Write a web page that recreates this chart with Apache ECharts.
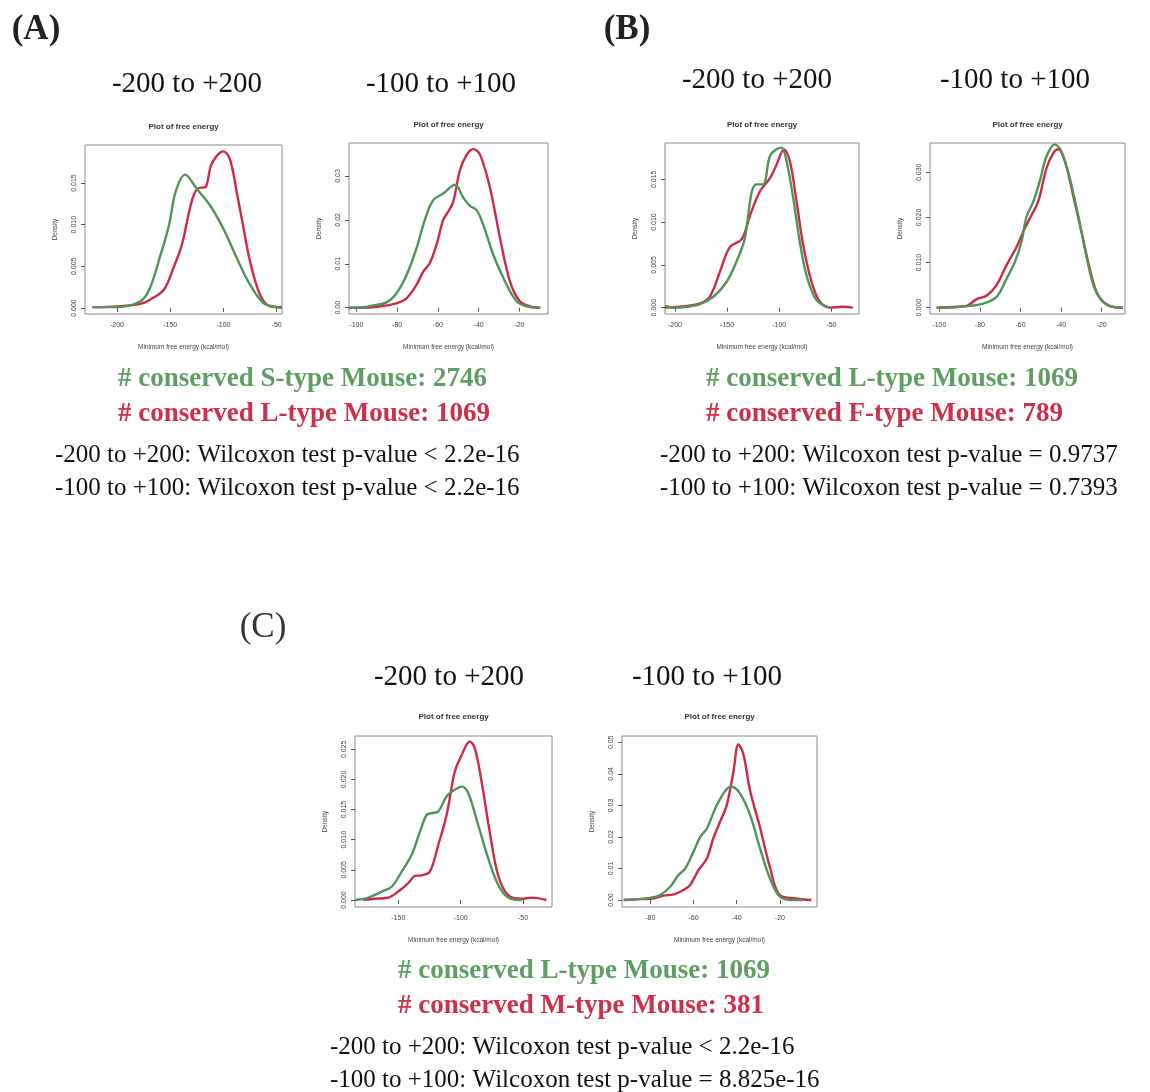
<!DOCTYPE html>
<html><head><meta charset="utf-8">
<script src="https://cdn.jsdelivr.net/npm/echarts@6/dist/echarts.min.js"></script>
<style>html,body{margin:0;padding:0;background:#fff}#c{width:1150px;height:1092px}</style>
</head><body><div id="c"></div>
<script>
// ---- data ----
const aWideXTicks = [-200, -150, -100, -50];
const aNarrowXTicks = [-100, -80, -60, -40, -20];
const c1XTicks = [-150, -100, -50];
const c2XTicks = [-80, -60, -40, -20];

const a1YTicks = [0, 0.005, 0.010, 0.015];
const a2YTicks = [0, 0.01, 0.02, 0.03];
const b1YTicks = [0, 0.005, 0.010, 0.015];
const b2YTicks = [0, 0.010, 0.020, 0.030];
const c1YTicks = [0, 0.005, 0.010, 0.015, 0.020, 0.025];
const c2YTicks = [0, 0.01, 0.02, 0.03, 0.04, 0.05];

// Panel A, -200..+200: green = S-type, red = L-type
const a1Green = [[-223,0.0001],[-200,0.0001],[-178,0.0008],[-169,0.0024],[-159,0.0064],[-151,0.0100],[-145,0.0139],[-136,0.0160],[-125,0.0143],[-112.5,0.0123],[-100,0.0095],[-87.5,0.0060],[-75,0.0028],[-62.5,0.0006],[-50,0.0001],[-45,0.0000]];
const a1Red = [[-223,0.0001],[-200,0.0002],[-178,0.0005],[-169,0.0010],[-156,0.0022],[-147,0.0048],[-139,0.0076],[-133,0.0111],[-128,0.0135],[-123,0.0144],[-117,0.0145],[-111,0.0173],[-100,0.0188],[-94,0.0179],[-87.5,0.0139],[-81,0.0095],[-75,0.0056],[-65.6,0.0016],[-56,0.0002],[-45,0.0001]];
// Panel A, -100..+100
const a2Green = [[-103.6,0],[-96.7,0.0001],[-91.8,0.0005],[-85.2,0.0012],[-80.3,0.0033],[-75.4,0.0074],[-70.5,0.0135],[-66.4,0.0200],[-62.3,0.0245],[-57.4,0.0260],[-51.6,0.0280],[-47.5,0.0250],[-44.3,0.0232],[-41,0.0222],[-37.7,0.0188],[-32.8,0.0120],[-27,0.0059],[-21.3,0.0014],[-15.6,0.0002],[-9.8,0]];
const a2Red = [[-103.6,0],[-96.7,0],[-90,0.0002],[-80.3,0.0010],[-75.4,0.0021],[-70.5,0.0052],[-67.2,0.0082],[-64,0.0101],[-60.7,0.0143],[-57.4,0.0200],[-54.9,0.0219],[-52.5,0.0241],[-49.2,0.0313],[-45.9,0.0348],[-42.6,0.0361],[-39.3,0.0348],[-34.4,0.0272],[-29.5,0.0158],[-24.6,0.0059],[-19.7,0.0014],[-14.8,0.0003],[-9.8,0]];
// Panel B, -200..+200: green = L-type, red = F-type
const b1Green = [[-209.6,0.0002],[-200,0],[-188.8,0.0001],[-176,0.0004],[-163,0.0013],[-150.6,0.0030],[-141,0.0054],[-133,0.0081],[-126.6,0.0134],[-121.8,0.0144],[-115.5,0.0144],[-109,0.0177],[-102.6,0.0185],[-97.8,0.0187],[-93,0.0171],[-86.6,0.0128],[-80.3,0.0077],[-73.9,0.0038],[-64.3,0.0009],[-51.6,0]];
const b1Red = [[-209.6,0],[-188.8,0.0002],[-176,0.0005],[-166.5,0.0013],[-156.9,0.0042],[-147.3,0.0071],[-136,0.0080],[-128,0.0108],[-118.5,0.0136],[-109,0.0151],[-102.6,0.0167],[-95.5,0.0185],[-89.8,0.0171],[-83.4,0.0124],[-77,0.0073],[-69,0.0030],[-61,0.0007],[-51.6,0],[-38.8,0.0001],[-29.3,0]];
// Panel B, -100..+100
const b2Green = [[-101.3,0],[-91.5,0.0001],[-84.9,0.0004],[-78.4,0.0009],[-71.8,0.0024],[-66.8,0.0065],[-62.7,0.0102],[-59.5,0.0146],[-57,0.0202],[-53.7,0.0235],[-50.5,0.0280],[-47.2,0.0335],[-43.1,0.0362],[-39.8,0.0346],[-35.7,0.0287],[-31.6,0.0205],[-27.6,0.0117],[-23.5,0.0043],[-17.7,0.0007],[-9.5,0]];
const b2Red = [[-101.3,0],[-91.5,0.0002],[-86.5,0.0004],[-81.6,0.0019],[-76.6,0.0027],[-71.8,0.0050],[-66.8,0.0095],[-61.9,0.0135],[-58.6,0.0169],[-55.4,0.0198],[-51.3,0.0235],[-47.2,0.0309],[-43.9,0.0342],[-41.4,0.0351],[-38.1,0.0324],[-34.1,0.0250],[-30,0.0169],[-25.9,0.0087],[-21.8,0.0028],[-16.1,0.0004],[-9.5,0]];
// Panel C, -200..+200: green = L-type, red = M-type
const c1Green = [[-184.7,0],[-174,0.0004],[-163.3,0.0014],[-155.3,0.0022],[-147.3,0.0047],[-139.3,0.0075],[-132.7,0.0113],[-127.3,0.0141],[-123.2,0.0144],[-117.9,0.0147],[-111.2,0.0172],[-104.5,0.0183],[-99.2,0.0188],[-93.9,0.0177],[-85.9,0.0124],[-77.9,0.0069],[-69.9,0.0025],[-61.9,0.0004],[-51.2,0]];
const c1Red = [[-178,0],[-168.7,0.0002],[-158,0.0004],[-150,0.0014],[-142,0.0028],[-136.7,0.0040],[-131.3,0.0041],[-124.7,0.0047],[-118,0.0091],[-111.3,0.0141],[-104.7,0.0213],[-99.3,0.0240],[-92.7,0.0263],[-88.7,0.0252],[-83.3,0.0197],[-76.7,0.0113],[-70,0.0041],[-62,0.0008],[-51.2,0.0002],[-43.3,0.0004],[-31.3,0]];
// Panel C, -100..+100
const c2Green = [[-92.3,0],[-86.2,0.0003],[-80,0.0007],[-75.4,0.0016],[-70.8,0.0042],[-67,0.0079],[-63.8,0.0100],[-60,0.0153],[-56.9,0.0200],[-53.8,0.0227],[-49.2,0.0301],[-44.6,0.0352],[-42.3,0.0359],[-38.5,0.0338],[-33.8,0.0270],[-29.2,0.0164],[-24.6,0.0069],[-20,0.0011],[-13.8,0],[-9.2,0]];
const c2Red = [[-92.3,0],[-84.6,0.0003],[-78.5,0.0005],[-73.8,0.0014],[-69.2,0.0018],[-64.6,0.0032],[-61.5,0.0048],[-57.7,0.0095],[-53.8,0.0132],[-50.8,0.0196],[-47.7,0.0248],[-44.6,0.0301],[-41.5,0.0407],[-39.2,0.0493],[-36.9,0.0463],[-33.8,0.0347],[-29.2,0.0231],[-24.6,0.0104],[-20,0.0016],[-12.3,0.0005],[-5.4,0]];

const panelLabels = ['(A)', '(B)', '(C)'];
const windowLabels = ['-200 to +200', '-100 to +100'];
const plotTitle = 'Plot of free energy';
const xName = 'Minimum free energy (kcal/mol)';
const yName = 'Density';
const aCounts = ['# conserved S-type Mouse: 2746', '# conserved L-type Mouse: 1069'];
const bCounts = ['# conserved L-type Mouse: 1069', '# conserved F-type Mouse: 789'];
const cCounts = ['# conserved L-type Mouse: 1069', '# conserved M-type Mouse: 381'];
const aTests = ['-200 to +200: Wilcoxon test p-value < 2.2e-16', '-100 to +100: Wilcoxon test p-value < 2.2e-16'];
const bTests = ['-200 to +200: Wilcoxon test p-value = 0.9737', '-100 to +100: Wilcoxon test p-value = 0.7393'];
const cTests = ['-200 to +200: Wilcoxon test p-value < 2.2e-16', '-100 to +100: Wilcoxon test p-value = 8.825e-16'];

// ---- layout / style ----
const GREEN = '#4f9656';
const RED = '#cf2a45';
const TXT_GREEN = '#5e9e62';
const TXT_RED = '#cf2f48';
const SERIF = '"Liberation Serif","Times New Roman",serif';
const SANS = '"Liberation Sans",Arial,sans-serif';

const panels = [
  {box:[85,145,197,169], x:[-230,-45], y:[-0.00072,0.01956], xt:aWideXTicks, yt:a1YTicks, yd:3, g:a1Green, r:a1Red, ty:128},
  {box:[349,143,199,171], x:[-103.6,-6], y:[-0.00144,0.0375], xt:aNarrowXTicks, yt:a2YTicks, yd:2, g:a2Green, r:a2Red, ty:126},
  {box:[665,143,194,171], x:[-209.6,-23.5], y:[-0.00074,0.01924], xt:aWideXTicks, yt:b1YTicks, yd:3, g:b1Green, r:b1Red, ty:126},
  {box:[930,143,195,171], x:[-104.6,-8.5], y:[-0.0014,0.0365], xt:aNarrowXTicks, yt:b2YTicks, yd:3, g:b2Green, r:b2Red, ty:126},
  {box:[355,736,197,171], x:[-184.7,-26.8], y:[-0.00116,0.0272], xt:c1XTicks, yt:c1YTicks, yd:3, g:c1Green, r:c1Red, ty:718},
  {box:[622,736,195,171], x:[-93.1,-2.8], y:[-0.0022,0.052], xt:c2XTicks, yt:c2YTicks, yd:2, g:c2Green, r:c2Red, ty:718}
];

const grid = [], xAxis = [], yAxis = [], series = [], graphic = [];
panels.forEach((p, i) => {
  grid.push({left:p.box[0], top:p.box[1], width:p.box[2], height:p.box[3], show:true, borderColor:'#8a8a8a', borderWidth:1, backgroundColor:'#fff'});
  const axisCommon = {axisLine:{show:false}, splitLine:{show:false},
    nameTextStyle:{fontFamily:SANS, fontSize:6.5, color:'#444'}};
  xAxis.push(Object.assign({}, axisCommon, {type:'value', gridIndex:i, min:p.x[0], max:p.x[1],
    axisTick:{show:true, length:4, lineStyle:{color:'#555'}, customValues:p.xt},
    axisLabel:{customValues:p.xt, fontFamily:SANS, fontSize:7, color:'#444', margin:8},
    name:xName, nameLocation:'middle', nameGap:30}));
  yAxis.push(Object.assign({}, axisCommon, {type:'value', gridIndex:i, min:p.y[0], max:p.y[1],
    axisTick:{show:true, length:4, lineStyle:{color:'#555'}, customValues:p.yt},
    axisLabel:{customValues:p.yt, fontFamily:SANS, fontSize:7, color:'#444', rotate:90, margin:7,
      formatter:(v)=>v.toFixed(p.yd)},
    name:yName, nameLocation:'middle', nameGap:26, nameRotate:90}));
  series.push({type:'line', xAxisIndex:i, yAxisIndex:i, data:p.g, smooth:0.35, showSymbol:false,
    lineStyle:{color:GREEN, width:2.4}, silent:true, z:3});
  series.push({type:'line', xAxisIndex:i, yAxisIndex:i, data:p.r, smooth:0.35, showSymbol:false,
    lineStyle:{color:RED, width:2.4}, silent:true, z:2});
  graphic.push({type:'text', left:p.box[0] + p.box[2]/2 - 35, top:p.ty - 5, style:{text:plotTitle, font:'bold 8px ' + SANS, fill:'#333'}});
});

function txt(text, x, y, font, fill, align) {
  graphic.push({type:'text', x:x, y:y, style:{text:text, font:font, fill:fill, textAlign:align || 'center', textVerticalAlign:'middle'}});
}
// panel letters
txt(panelLabels[0], 36, 30, 'bold 35px ' + SERIF, '#222');
txt(panelLabels[1], 627, 30, 'bold 35px ' + SERIF, '#222');
txt(panelLabels[2], 263, 628, '35px ' + SERIF, '#333');
// window headings
const HF = '29px ' + SERIF;
txt(windowLabels[0], 187, 84, HF, '#111');
txt(windowLabels[1], 441, 84, HF, '#111');
txt(windowLabels[0], 757, 80, HF, '#111');
txt(windowLabels[1], 1015, 80, HF, '#111');
txt(windowLabels[0], 449, 677, HF, '#111');
txt(windowLabels[1], 707, 677, HF, '#111');
// counts
const CF = 'bold 27px ' + SERIF;
txt(aCounts[0], 118, 379, CF, TXT_GREEN, 'left');
txt(aCounts[1], 118, 414, CF, TXT_RED, 'left');
txt(bCounts[0], 706, 379, CF, TXT_GREEN, 'left');
txt(bCounts[1], 706, 414, CF, TXT_RED, 'left');
txt(cCounts[0], 398, 971, CF, TXT_GREEN, 'left');
txt(cCounts[1], 398, 1006, CF, TXT_RED, 'left');
// tests
const TF = '25px ' + SERIF;
txt(aTests[0], 55, 455, TF, '#111', 'left');
txt(aTests[1], 55, 488, TF, '#111', 'left');
txt(bTests[0], 660, 455, TF, '#111', 'left');
txt(bTests[1], 660, 488, TF, '#111', 'left');
txt(cTests[0], 330, 1047, TF, '#111', 'left');
txt(cTests[1], 330, 1080, TF, '#111', 'left');

const chart = echarts.init(document.getElementById('c'), null, {renderer:'canvas'});
chart.setOption({backgroundColor:'#fff', animation:false, grid, xAxis, yAxis, series, graphic});
</script></body></html>
